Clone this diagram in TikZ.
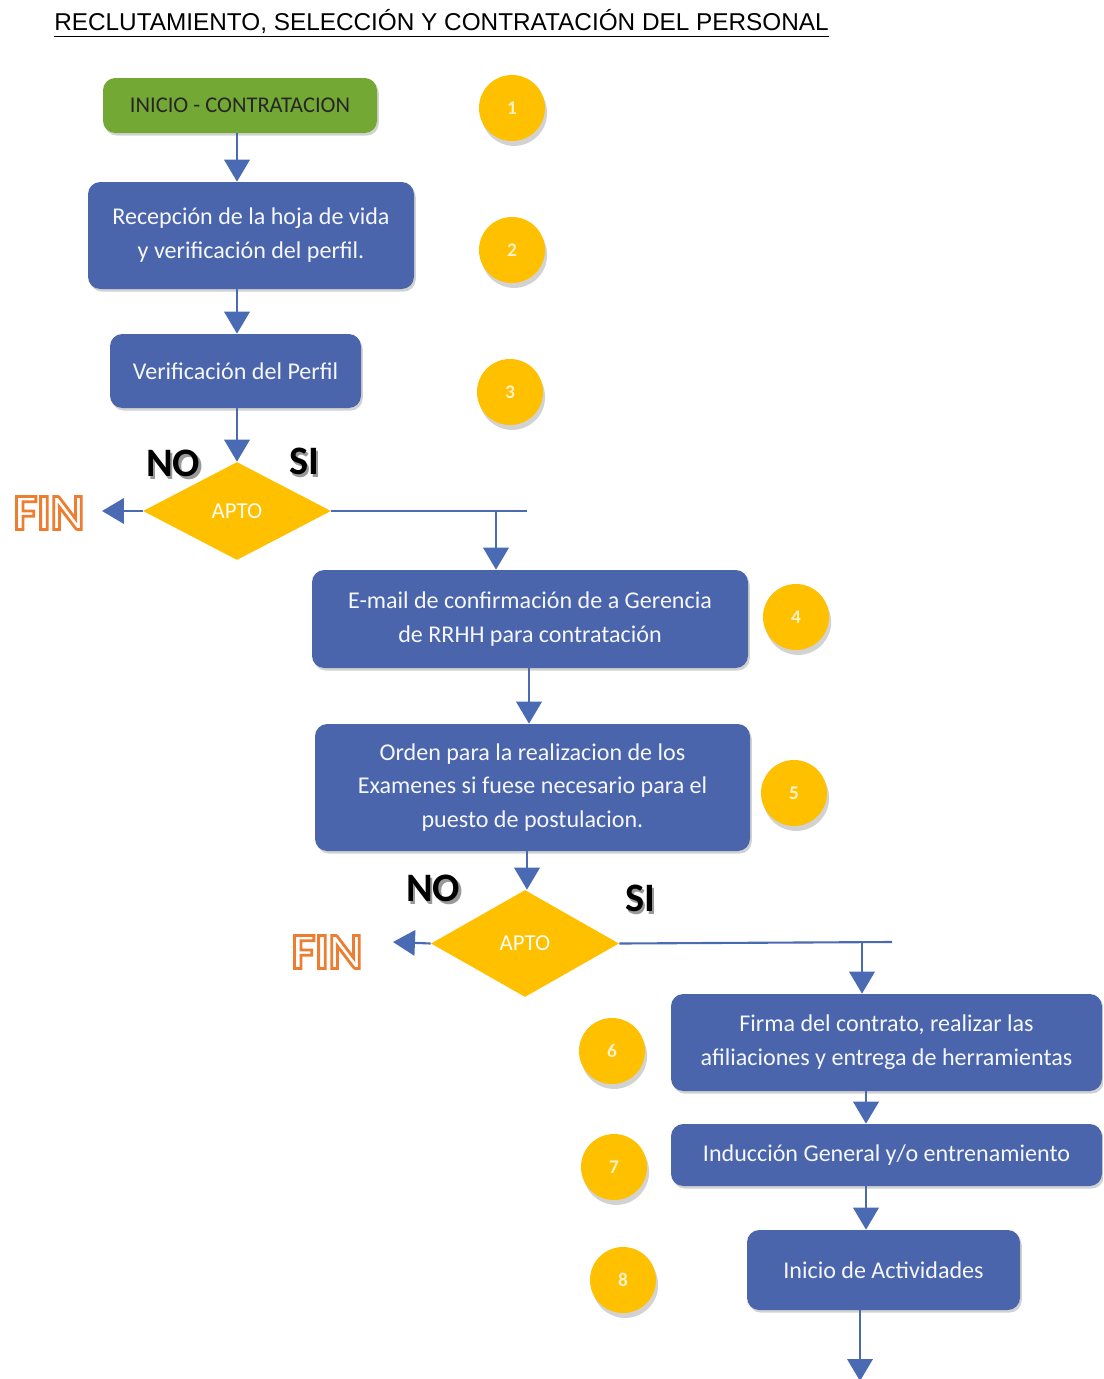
\documentclass[tikz,border=0pt]{standalone}
\usepackage{fontspec}
\setmainfont{Carlito}
\newfontfamily\titlefont{Liberation Sans}
\usetikzlibrary{shapes.geometric,arrows.meta,shadows,calc}
\definecolor{boxblue}{HTML}{4A65AC}
\definecolor{linblue}{HTML}{4A6BB3}
\definecolor{startgreen}{HTML}{74A834}
\definecolor{gold}{HTML}{FFC000}
\definecolor{finorange}{HTML}{ED7D31}
\definecolor{numcol}{HTML}{FFF1C8}
\newcommand{\pxl}{0.02cm}
\newcommand{\shtxt}[1]{\makebox[0pt][l]{\hspace{1.6pt}\raisebox{-1.6pt}{\textcolor{black!40}{#1}}}#1}
\newcommand{\outlinetxt}[1]{{\color{finorange}\special{pdf:literal direct 1 Tr 1.6 w}#1\special{pdf:literal direct 0 Tr 0.4 w}}}
\begin{document}
\begin{tikzpicture}[x=0.02cm,y=-0.02cm,
  procbox/.style={rectangle, rounded corners=7pt, fill=boxblue, text=white!95!boxblue,
    font=\fontsize{13.7}{19.3}\selectfont, align=center, inner sep=0pt,
    drop shadow={opacity=0.35, shadow xshift=1pt, shadow yshift=-1.5pt}},
  startbox/.style={procbox, fill=startgreen, text=black!85, font=\fontsize{12.8}{15}\selectfont},
  circnum/.style={circle, fill=gold, minimum size=66*\pxl, inner sep=0pt, text=numcol,
    font=\bfseries\fontsize{11}{11}\selectfont,
    drop shadow={opacity=0.35, shadow xshift=1.2pt, shadow yshift=-2.8pt}},
  decis/.style={diamond, fill=gold, text=white!96!gold, font=\fontsize{13}{13}\selectfont,
    inner sep=0pt},
  arr/.style={draw=linblue, line width=1.2pt, -{Triangle[width=14.5pt,length=12.5pt]}},
  plainline/.style={draw=linblue, line width=1.2pt},
  yesno/.style={font=\bfseries\fontsize{23}{24}\selectfont, inner sep=0pt},
  fintxt/.style={font=\bfseries\fontsize{29}{30}\selectfont, inner sep=0pt}
]
\clip (0,0) rectangle (1103,1379);
\fill[white] (0,0) rectangle (1103,1379);

% title
\node[anchor=base, inner sep=0pt, font=\titlefont\fontsize{13.85}{16}\selectfont] (title) at (441.5,31)
  {\underline{RECLUTAMIENTO, SELECCIÓN Y CONTRATACIÓN DEL PERSONAL}};

% boxes
\node[startbox, minimum width=274*\pxl, minimum height=55*\pxl] (start) at (240,105.5) {INICIO - CONTRATACION};
\node[procbox, minimum width=326*\pxl, minimum height=107*\pxl] (b2) at (251,235.5) {Recepción de la hoja de vida\\y verificación del perfil.};
\node[procbox, minimum width=251*\pxl, minimum height=74*\pxl] (b3) at (235.5,371) {Verificación del Perfil};
\node[decis, minimum width=188*\pxl, minimum height=98*\pxl] (d1) at (237,511) {APTO};
\node[procbox, minimum width=436*\pxl, minimum height=98*\pxl] (b4) at (530,619) {E-mail de confirmación de a Gerencia\\de RRHH para contratación};
\node[procbox, minimum width=435*\pxl, minimum height=127*\pxl] (b5) at (532.5,787.5) {Orden para la realizacion de los\\Examenes si fuese necesario para el\\puesto de postulacion.};
\node[decis, minimum width=188*\pxl, minimum height=107*\pxl] (d2) at (525,943.5) {APTO};
\node[procbox, minimum width=431*\pxl, minimum height=97*\pxl] (b6) at (886.5,1042.5) {Firma del contrato, realizar las\\afiliaciones y entrega de herramientas};
\node[procbox, minimum width=431*\pxl, minimum height=62*\pxl] (b7) at (886.5,1155) {Inducción General y/o entrenamiento};
\node[procbox, minimum width=273*\pxl, minimum height=80*\pxl] (b8) at (883.5,1270) {Inicio de Actividades};

% numbered circles
\node[circnum] (c1) at (512,108) {1};
\node[circnum] (c2) at (512,250) {2};
\node[circnum] (c3) at (510,392) {3};
\node[circnum] (c4) at (796,617) {4};
\node[circnum] (c5) at (794,793) {5};
\node[circnum] (c6) at (612,1051) {6};
\node[circnum] (c7) at (614,1167) {7};
\node[circnum] (c8) at (623,1280) {8};

% labels
\node[yesno] (no1) at (173,465) {\shtxt{NO}};
\node[yesno] (si1) at (304,463) {\shtxt{SI}};
\node[yesno] (no2) at (433,890) {\shtxt{NO}};
\node[yesno] (si2) at (640,900) {\shtxt{SI}};
\node[fintxt] (fin1) at (49,513) {\outlinetxt{FIN}};
\node[fintxt] (fin2) at (327,952) {\outlinetxt{FIN}};

% helper coordinates
\coordinate (j1) at (527,511);
\coordinate (br1) at (496,511);
\coordinate (ft1) at (102,511);
\coordinate (j2) at (892,942);
\coordinate (br2) at (862,942);
\coordinate (ft2) at (393,942);
\coordinate (x6) at (866,0);
\coordinate (x8) at (860,0);
\coordinate (endpt) at (860,1381);

% connectors
\draw[arr] (start.south -| d1) -- (b2.north -| d1);
\draw[arr] (b2.south -| d1) -- (b3.north -| d1);
\draw[arr] (b3.south -| d1) -- (d1.north);
\draw[arr] (d1.west) -- (ft1);
\draw[plainline] (d1.east) -- (j1);
\draw[arr] (br1) -- (br1 |- b4.north);
\draw[arr] (b4.south -| 529,0) -- (b5.north -| 529,0);
\draw[arr] (b5.south -| 527,0) -- (d2.north -| 527,0);
\draw[arr] (d2.west) -- (ft2);
\draw[plainline] (d2.east) -- (j2);
\draw[arr] (br2) -- (br2 |- b6.north);
\draw[arr] (b6.south -| x6) -- (b7.north -| x6);
\draw[arr] (b7.south -| x6) -- (b8.north -| x6);
\draw[arr] (b8.south -| x8) -- (endpt);
\end{tikzpicture}
\end{document}
